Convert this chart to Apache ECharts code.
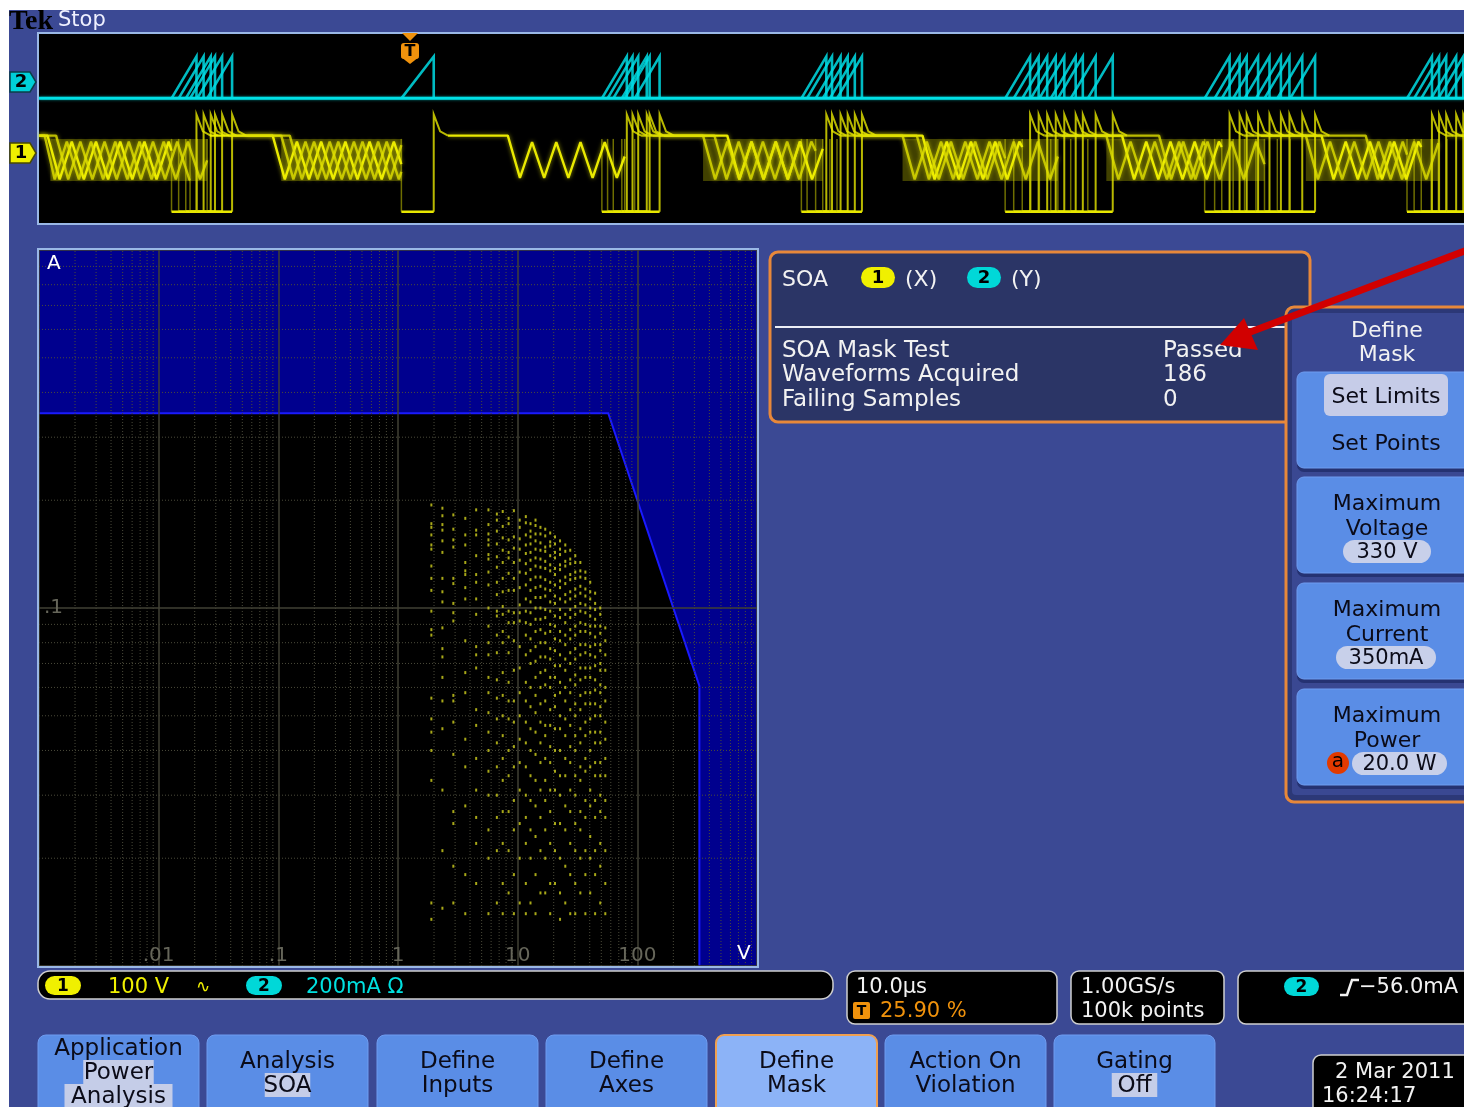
<!DOCTYPE html>
<html>
<head>
<meta charset="utf-8">
<script src="https://cdn.jsdelivr.net/npm/echarts@6/dist/echarts.min.js"></script>
<style>
html,body{margin:0;padding:0;background:#ffffff;}
#scope{width:1464px;height:1107px;}
</style>
</head>
<body>
<div id="scope"></div>
<script>
const FONT = '"DejaVu Sans", "Noto Sans", sans-serif';

// ---------- Acquisition window (time in µs, 10 µs/div, 10 div) ----------
const timeRange = [0, 100];

// Channel 1 (switch voltage, V) levels
const ch1Range = [-368, 621];
const ch1Levels = { flat: 89, spike: 200, settle: 112, low: -309, ringTop: 72, ringBottom: -148 };

// Channel 2 (switch current, mA) levels
const ch2Range = [-1484, 495];
const ch2Levels = { base: -179, peak: 260 };

// Switching events [turn-on, turn-off] in µs, collected over all acquisitions
const switchEvents = [
  [9.3, 11.05], [9.8, 11.55], [10.3, 12.05], [10.6, 12.35], [11.1, 12.85], [11.8, 13.55],
  [25.43, 27.7],
  [39.5, 41.25], [39.9, 41.65], [40.3, 42.05], [40.9, 42.65], [41.1, 42.85], [41.8, 43.55],
  [53.5, 55.25], [53.9, 55.65], [54.5, 56.25], [55.0, 56.75], [55.5, 57.25], [56.0, 57.75],
  [67.8, 69.55], [68.4, 70.15], [69.0, 70.75], [69.6, 71.35], [70.2, 71.95], [71.0, 72.75], [71.5, 73.25], [72.4, 74.15], [73.6, 75.35],
  [81.8, 83.55], [82.5, 84.25], [83.0, 84.75], [83.8, 85.55], [84.6, 86.35], [85.4, 87.15], [86.0, 87.75], [86.9, 88.65], [87.8, 89.55],
  [96.0, 97.75], [96.5, 98.25], [97.0, 98.75], [97.7, 99.45], [98.2, 99.95], [98.8, 100.55]
];

// Intervals where the persisted ringing overlaps (µs)
const ringBands = [[0.8, 11.8], [17.0, 25.43], [46.6, 55.0], [60.6, 71.5], [74.9, 86.0], [88.9, 98.2]];

// Off-state segments of three stored channel 1 traces: [t µs, V]
const ch1TraceA = [
  [[0, 89], [0.6, 89], [1.45, -140], [2.3, 58], [3.15, -140], [4.0, 58], [4.85, -140], [5.7, 58], [6.55, -140], [7.4, 58], [8.25, -140], [9.1, 58], [9.3, 10]],
  [[12.0, 89], [16.4, 89], [17.25, -140], [18.1, 58], [18.95, -140], [19.8, 58], [20.65, -140], [21.5, 58], [22.35, -140], [23.2, 58], [24.05, -140], [24.9, 58], [25.43, -60]],
  [[28.7, 89], [32.9, 89], [33.75, -132], [34.6, 55], [35.45, -132], [36.3, 55], [37.15, -132], [38.0, 55], [38.85, -132], [39.7, 55], [40.55, -132], [41.1, -20]],
  [[43.85, 89], [48.3, 89], [49.15, -140], [50.0, 58], [50.85, -140], [51.7, 58], [52.55, -140], [53.4, 58], [54.25, -140], [55.0, 20]],
  [[57.75, 89], [62.0, 89], [62.85, -140], [63.7, 58], [64.55, -140], [65.4, 58], [66.25, -140], [67.1, 58], [67.95, -140], [68.8, 58], [69.0, 30]],
  [[71.75, 89], [76.0, 89], [76.85, -140], [77.7, 58], [78.55, -140], [79.4, 58], [80.25, -140], [81.1, 58], [81.95, -140], [82.8, 58], [83.0, 30]],
  [[85.75, 89], [90.0, 89], [90.85, -140], [91.7, 58], [92.55, -140], [93.4, 58], [94.25, -140], [95.1, 58], [95.95, -140], [96.8, 58], [97.0, 30]],
  [[99.75, 89], [100, 89]]
];
const ch1TraceB = [
  [[0, 89], [1.2, 89], [2.05, -140], [2.9, 58], [3.75, -140], [4.6, 58], [5.45, -140], [6.3, 58], [7.15, -140], [8.0, 58], [8.85, -140], [9.7, 58], [10.55, -140], [10.6, -145]],
  [[13.35, 89], [17.6, 89], [18.45, -140], [19.3, 58], [20.15, -140], [21.0, 58], [21.85, -140], [22.7, 58], [23.55, -140], [24.4, 58], [25.25, -140], [25.43, -100]],
  [[42.25, 89], [46.6, 89], [47.45, -140], [48.3, 58], [49.15, -140], [50.0, 58], [50.85, -140], [51.7, 58], [52.55, -140], [53.4, 58], [53.5, 40]],
  [[56.25, 89], [60.6, 89], [61.45, -140], [62.3, 58], [63.15, -140], [64.0, 58], [64.85, -140], [65.7, 58], [66.55, -140], [67.4, 58], [67.8, -30]],
  [[70.55, 89], [74.9, 89], [75.75, -140], [76.6, 58], [77.45, -140], [78.3, 58], [79.15, -140], [80.0, 58], [80.85, -140], [81.7, 58], [81.8, 40]],
  [[84.55, 89], [88.9, 89], [89.75, -140], [90.6, 58], [91.45, -140], [92.3, 58], [93.15, -140], [94.0, 58], [94.85, -140], [95.7, 58], [96.0, -10]],
  [[98.75, 89], [100, 89]]
];
const ch1TraceC = [
  [[0, 89], [0.4, 89], [1.1, -140], [1.95, 58], [2.8, -140], [3.65, 58], [4.5, -140], [5.35, 58], [6.2, -140], [7.05, 58], [7.9, -140], [8.75, 58], [9.6, -140], [10.45, 58], [11.3, -140], [11.8, -40]],
  [[14.55, 89], [17.0, 89], [17.85, -140], [18.7, 58], [19.55, -140], [20.4, 58], [21.25, -140], [22.1, 58], [22.95, -140], [23.8, 58], [24.65, -140], [25.43, 40]],
  [[43.05, 89], [47.4, 89], [48.25, -140], [49.1, 58], [49.95, -140], [50.8, 58], [51.65, -140], [52.5, 58], [53.35, -140], [54.2, 58], [54.5, 10]],
  [[57.25, 89], [61.6, 89], [62.45, -140], [63.3, 58], [64.15, -140], [65.0, 58], [65.85, -140], [66.7, 58], [67.55, -140], [68.4, 58], [69.25, -140], [70.1, 58], [70.95, -140], [71.5, -20]],
  [[74.25, 89], [78.6, 89], [79.45, -140], [80.3, 58], [81.15, -140], [82.0, 58], [82.85, -140], [83.7, 58], [84.55, -140], [85.4, 58], [86.0, -60]],
  [[88.75, 89], [93.1, 89], [93.95, -140], [94.8, 58], [95.65, -140], [96.5, 58], [97.35, -140], [98.2, 50]]
];

// ---------- SOA plot ----------
const voltRange = [0.001, 1000];
const ampRange = [0.01, 1];
const voltDecadeLabels = { '-2': '.01', '-1': '.1', '0': '1', '1': '10', '2': '100' };
const ampDecadeLabels = { '-1': '.1' };
const minorVolts = [0.002, 0.003, 0.004, 0.005, 0.006, 0.007, 0.008, 0.009,
  0.02, 0.03, 0.04, 0.05, 0.06, 0.07, 0.08, 0.09,
  0.2, 0.3, 0.4, 0.5, 0.6, 0.7, 0.8, 0.9,
  2, 3, 4, 5, 6, 7, 8, 9,
  20, 30, 40, 50, 60, 70, 80, 90,
  200, 300, 400, 500, 600, 700, 800, 900];
const minorAmps = [0.02, 0.03, 0.04, 0.05, 0.06, 0.07, 0.08, 0.09, 0.2, 0.3, 0.4, 0.5, 0.6, 0.7, 0.8, 0.9];

// Mask limits
const maxVoltage = 330;   // V
const maxCurrent = 0.35;  // A
const maxPower = 20;      // W

// Acquired (V, I) samples: voltage columns and the currents (mA) seen in each
const soaVolts = [1.9, 2.35, 2.9, 3.65, 4.5, 5.7, 6.7, 7.5, 8.4, 9.3, 10.4, 11.7, 12.8, 14.1,
  15.5, 17.0, 18.7, 20.5, 22.6, 25.0, 27.5, 30.3, 33.4, 36.8, 40.4, 44.4, 49.0, 54.0];
const soaCurrentsMa = [
  [194, 172, 168, 160, 150, 146, 131, 121, 112, 98, 87, 84, 56, 49, 45, 40, 33, 15, 13.5],
  [190, 181, 171, 165, 154, 143, 121, 111, 104, 88, 77, 73, 64, 55, 46, 31, 21, 14.5],
  [182, 166, 155, 148, 121, 117, 103, 97, 92, 57, 55, 48, 39, 27, 25, 19, 15],
  [178, 160, 150, 134, 127, 124, 114, 106, 81, 66, 58, 43, 36, 28, 18, 14],
  [188, 165, 160, 140, 124, 118, 106, 96, 78, 74, 68, 52, 47, 38, 31, 26, 22, 17],
  [188, 171, 161, 155, 150, 141, 137, 126, 116, 100, 89, 80, 74, 64, 58, 51, 45, 40, 35, 30, 24, 20, 14],
  [183, 176, 164, 151, 139, 130, 118, 109, 98, 95, 84, 75, 63, 56, 49, 42, 36, 30, 26, 21, 15],
  [186, 169, 157, 145, 134, 121, 111, 101, 96, 86, 80, 66, 57, 50, 44, 38, 33, 27, 22, 17, 14],
  [178, 172, 155, 143, 138, 125, 112, 98, 91, 83, 75, 62, 55, 49, 40, 34, 27, 21, 16],
  [187, 158, 147, 134, 121, 112, 97, 91, 81, 67, 55, 48, 41, 36, 29, 24, 18, 14],
  [176, 168, 156, 146, 136, 126, 114, 102, 97, 92, 78, 68, 58, 50, 43, 37, 31, 25, 20, 15],
  [180, 173, 160, 150, 142, 133, 125, 116, 106, 98, 91, 84, 74, 62, 55, 48, 42, 36, 30, 26, 22, 17, 14],
  [172, 164, 158, 151, 143, 136, 128, 120, 112, 104, 97, 90, 82, 76, 70, 60, 53, 46, 40, 34, 29, 24, 20, 15],
  [176, 170, 161, 154, 146, 138, 131, 122, 114, 107, 100, 93, 86, 78, 71, 64, 57, 51, 45, 39, 33, 28, 23, 18, 14],
  [168, 161, 152, 145, 137, 130, 122, 115, 107, 100, 93, 87, 80, 73, 66, 60, 54, 48, 42, 37, 31, 26, 21, 16],
  [166, 159, 148, 144, 135, 129, 120, 113, 108, 99, 94, 85, 80, 73, 67, 61, 55, 47, 44, 38, 33, 29, 24, 20, 16],
  [162, 153, 149, 140, 132, 127, 118, 112, 104, 98, 90, 86, 77, 72, 64, 60, 52, 47, 41, 37, 31, 27, 22, 17, 14],
  [158, 151, 143, 138, 129, 124, 116, 108, 103, 95, 89, 82, 76, 69, 64, 57, 53, 46, 40, 35, 31, 25, 21, 17],
  [154, 146, 141, 132, 128, 119, 114, 106, 99, 94, 86, 81, 74, 69, 62, 58, 50, 46, 40, 34, 30, 25, 20, 16, 13.5],
  [150, 144, 135, 131, 122, 117, 109, 104, 96, 91, 84, 79, 72, 67, 60, 55, 49, 44, 38, 34, 28, 24, 19, 15],
  [145, 137, 133, 124, 120, 111, 106, 99, 94, 87, 82, 75, 70, 63, 58, 52, 47, 41, 37, 31, 27, 22, 18, 14],
  [140, 134, 126, 121, 113, 108, 101, 96, 89, 84, 77, 72, 65, 61, 54, 50, 44, 40, 34, 30, 25, 21, 17, 14],
  [134, 127, 122, 115, 110, 103, 98, 91, 86, 79, 74, 68, 63, 57, 52, 46, 42, 36, 33, 27, 24, 20, 16],
  [126, 121, 113, 108, 102, 97, 90, 86, 79, 75, 68, 64, 58, 54, 48, 44, 38, 35, 29, 26, 21, 18, 14],
  [118, 111, 106, 100, 95, 89, 85, 78, 74, 68, 64, 58, 54, 49, 45, 40, 36, 31, 28, 23, 20, 16],
  [110, 103, 99, 93, 89, 83, 79, 73, 69, 63, 59, 54, 50, 45, 42, 37, 34, 29, 26, 21, 18, 14],
  [100, 96, 89, 85, 79, 76, 70, 67, 61, 58, 53, 50, 45, 42, 37, 34, 30, 27, 22, 19, 15],
  [88, 81, 74, 67, 60, 55, 48, 43, 38, 34, 29, 26, 21, 17, 14]
];
const soaPoints = soaVolts.flatMap((v, i) => soaCurrentsMa[i].map(ma => [v, ma / 1000]));

// ---------- Screen furniture ----------
const SCREEN_BG = '#3b4994';
const BTN_BLUE = '#5a8de6';
const TEXT_DY = 2;
const G = [];
function rect(x, y, w, h, o = {}) {
  G.push({ type: 'rect', z: o.z ?? 1, silent: true,
    shape: { x, y, width: w, height: h, r: o.r || 0 },
    style: { fill: o.fill ?? 'none', stroke: o.stroke ?? null, lineWidth: o.lw ?? 1 } });
}
function txt(x, y, s, o = {}) {
  const align = o.align || 'left';
  G.push({ type: 'text', z: o.z ?? 30, x, y: y + TEXT_DY, silent: true,
    style: { text: s, fill: o.fill || '#f2f2f2',
      font: `${o.weight || 'normal'} ${o.size || 22}px ${o.family || FONT}`,
      align, verticalAlign: 'middle', textAlign: align, textVerticalAlign: 'middle' } });
}
function poly(points, o = {}) {
  G.push({ type: 'polygon', z: o.z ?? 20, silent: true, shape: { points },
    style: { fill: o.fill, stroke: o.stroke ?? null, lineWidth: o.lw ?? 1 } });
}
function pline(points, o = {}) {
  G.push({ type: 'polyline', z: o.z ?? 20, silent: true, shape: { points },
    style: { fill: null, stroke: o.stroke, lineWidth: o.lw ?? 1, lineCap: o.cap || 'butt' } });
}
function circ(cx, cy, r, o = {}) {
  G.push({ type: 'circle', z: o.z ?? 20, silent: true, shape: { cx, cy, r }, style: { fill: o.fill } });
}
function pill(x, y, w, h, fill, label, o = {}) {
  rect(x, y, w, h, { r: h / 2, fill, z: o.z ?? 20 });
  txt(x + w / 2, y + h / 2 - 1, label, { fill: o.color || '#000', size: o.size || 18, weight: o.weight || 'bold', align: 'center', z: (o.z ?? 20) + 1 });
}

// screen background and title
rect(9, 10, 1455, 1097, { fill: SCREEN_BG, z: 0 });
txt(9, 20, 'Tek', { fill: '#000', size: 28, weight: 'bold', family: '"Liberation Serif", serif', z: 5 });
txt(58, 19, 'Stop', { fill: '#eef0ff', size: 21, z: 5 });

// waveform panel
rect(38, 33, 1450, 191, { fill: '#000', stroke: '#9ab8e6', lw: 2, z: 1 });
poly([[10, 72], [30, 72], [36, 82], [30, 92], [10, 92]], { fill: '#00d0d8', stroke: '#0b3f48', lw: 1.5 });
txt(21, 80, '2', { fill: '#000', size: 18, weight: 'bold', align: 'center', z: 21 });
poly([[10, 143], [30, 143], [36, 153], [30, 163], [10, 163]], { fill: '#f0f000', stroke: '#4a4a00', lw: 1.5 });
txt(21, 151, '1', { fill: '#000', size: 18, weight: 'bold', align: 'center', z: 21 });
poly([[402, 33], [418, 33], [410, 41]], { fill: '#f0920c' });
rect(401, 43, 18, 16, { r: 3, fill: '#f0920c', z: 20 });
poly([[401, 57], [419, 57], [410, 64]], { fill: '#f0920c' });
txt(410, 50, 'T', { fill: '#000', size: 16, weight: 'bold', align: 'center', z: 22 });

// SOA plot frame
rect(38, 249, 720, 718, { fill: '#000', z: 1 });
rect(38, 249, 720, 718, { stroke: '#9ab8e6', lw: 2, z: 50 });
txt(47, 262, 'A', { fill: '#ffffff', size: 20, z: 51 });
txt(737, 952, 'V', { fill: '#ffffff', size: 20, z: 51 });

// results readout
rect(770, 252, 540, 170, { r: 8, fill: '#2b3566', stroke: '#e8883a', lw: 3, z: 1 });
pline([[775, 327], [1288, 327]], { stroke: '#eceef6', lw: 2, z: 2 });
txt(782, 278, 'SOA', { size: 22 });
pill(861, 267, 34, 21, '#f0f000', '1');
txt(905, 278, '(X)', { size: 22 });
pill(967, 267, 34, 21, '#00d8d8', '2');
txt(1011, 278, '(Y)', { size: 22 });
const readoutNames = ['SOA Mask Test', 'Waveforms Acquired', 'Failing Samples'];
const readoutValues = ['Passed', '186', '0'];
readoutNames.forEach((s, i) => {
  txt(782, 349 + i * 24.5, s, { size: 23 });
  txt(1163, 349 + i * 24.5, readoutValues[i], { size: 23 });
});

// side menu
rect(1286, 307, 200, 495, { r: 8, fill: '#2c3877', stroke: '#e8883a', lw: 3, z: 3 });
rect(1292, 313, 200, 482, { r: 4, fill: '#3a4892', z: 4 });
txt(1387, 329, 'Define', { size: 22, align: 'center' });
txt(1387, 353, 'Mask', { size: 22, align: 'center' });
[[372, 98], [477, 98], [583, 98], [689, 98]].forEach(([y, h]) => {
  rect(1297, y + 2, 190, h, { r: 7, fill: '#253272', z: 5 });
  rect(1297, y, 190, h - 2, { r: 7, fill: BTN_BLUE, stroke: '#6f9cf0', lw: 1, z: 6 });
});
const DARK = '#0b0b18';
rect(1324, 374, 124, 42, { r: 6, fill: '#c6cce8', z: 10 });
txt(1386, 395, 'Set Limits', { fill: DARK, size: 22, align: 'center' });
txt(1386, 442, 'Set Points', { fill: DARK, size: 22, align: 'center' });
txt(1387, 502, 'Maximum', { fill: DARK, size: 22, align: 'center' });
txt(1387, 527, 'Voltage', { fill: DARK, size: 22, align: 'center' });
pill(1343, 540, 88, 23, '#c8d0ea', '330 V', { color: DARK, size: 21, weight: 'normal' });
txt(1387, 608, 'Maximum', { fill: DARK, size: 22, align: 'center' });
txt(1387, 633, 'Current', { fill: DARK, size: 22, align: 'center' });
pill(1336, 646, 100, 23, '#c8d0ea', '350mA', { color: DARK, size: 21, weight: 'normal' });
txt(1387, 714, 'Maximum', { fill: DARK, size: 22, align: 'center' });
txt(1387, 739, 'Power', { fill: DARK, size: 22, align: 'center' });
circ(1338, 763, 11, { fill: '#e23a00', z: 20 });
txt(1338, 760, 'a', { fill: '#000', size: 20, align: 'center', z: 21 });
pill(1352, 752, 95, 23, '#c8d0ea', '20.0 W', { color: DARK, size: 21, weight: 'normal' });

// callout arrow
pline([[1470, 249], [1245, 334]], { stroke: '#d10000', lw: 7, z: 60 });
poly([[1220, 345], [1244, 318], [1258, 350]], { fill: '#d10000', z: 60 });

// status boxes
const BOX = { fill: '#000', stroke: '#cfcfcf', lw: 1.5, z: 2 };
rect(38, 971, 795, 28, { ...BOX, r: 12 });
pill(45, 976, 36, 19, '#f0f000', '1', { size: 17 });
txt(108, 986, '100 V', { fill: '#f0f000', size: 21 });
txt(196, 986, '∿', { fill: '#f0f000', size: 17 });
pill(246, 976, 36, 19, '#00d8d8', '2', { size: 17 });
txt(306, 986, '200mA Ω', { fill: '#00e0e0', size: 21 });

rect(847, 971, 210, 53, { ...BOX, r: 8 });
txt(856, 986, '10.0µs', { size: 21 });
rect(853, 1002, 17, 17, { r: 2, fill: '#f0920c', z: 20 });
txt(861.5, 1009, 'T', { fill: '#000', size: 14, weight: 'bold', align: 'center' });
txt(880, 1010, '25.90 %', { fill: '#f0920c', size: 21 });

rect(1071, 971, 153, 53, { ...BOX, r: 8 });
txt(1081, 986, '1.00GS/s', { size: 21 });
txt(1081, 1010, '100k points', { size: 21 });

rect(1238, 971, 260, 53, { ...BOX, r: 8 });
pill(1284, 977, 35, 19, '#00d8d8', '2', { size: 17 });
pline([[1340, 995], [1347, 995], [1352, 980], [1359, 980]], { stroke: '#f2f2f2', lw: 2.5, z: 21 });
txt(1359, 986, '−56.0mA', { size: 21 });

rect(1313, 1055, 180, 60, { ...BOX, r: 8 });
txt(1335, 1071, '2 Mar 2011', { size: 21 });
txt(1322, 1095, '16:24:17', { size: 21 });

// bottom menu
const bottomMenu = [
  { x: 38, lines: ['Application', 'Power', 'Analysis'], hl: [1, 2] },
  { x: 207, lines: ['Analysis', 'SOA'], hl: [1] },
  { x: 377, lines: ['Define', 'Inputs'], hl: [] },
  { x: 546, lines: ['Define', 'Axes'], hl: [] },
  { x: 716, lines: ['Define', 'Mask'], hl: [], active: true },
  { x: 885, lines: ['Action On', 'Violation'], hl: [] },
  { x: 1054, lines: ['Gating', 'Off'], hl: [1] }
];
bottomMenu.forEach(b => {
  rect(b.x, 1035, 161, 85, { r: 8, fill: b.active ? '#8cb3f7' : BTN_BLUE,
    stroke: b.active ? '#f0a050' : '#6f9cf0', lw: b.active ? 2 : 1, z: 3 });
  const cx = b.x + 80.5;
  const y0 = b.lines.length === 3 ? 1047 : 1060;
  b.lines.forEach((s, i) => {
    const y = y0 + i * 24;
    if (b.hl.includes(i)) {
      const w = s.length * 12.5 + 8;
      rect(cx - w / 2, y - 11, w, 24, { fill: '#c5cde8', z: 10 });
    }
    txt(cx, y, s, { fill: DARK, size: 23, align: 'center' });
  });
});

// ---------- chart ----------
const chart = echarts.init(document.getElementById('scope'), null, { renderer: 'canvas' });

const decadeFmt = map => v => {
  const e = Math.round(Math.log10(v));
  return map[String(e)] || '';
};

const series = [];

// persisted ringing bands (channel 1)
series.push({
  type: 'custom', xAxisIndex: 0, yAxisIndex: 0, z: 3, silent: true,
  data: ringBands,
  renderItem(params, api) {
    const a = api.coord([api.value(0), ch1Levels.ringTop]);
    const b = api.coord([api.value(1), ch1Levels.ringBottom]);
    return { type: 'rect', shape: { x: a[0], y: a[1], width: b[0] - a[0], height: b[1] - a[1] },
      style: { fill: 'rgba(190,190,0,0.34)' } };
  }
});

// stored channel 1 traces
[ch1TraceA, ch1TraceB, ch1TraceC].forEach((trace, k) => {
  trace.forEach(seg => series.push({
    type: 'line', xAxisIndex: 0, yAxisIndex: 0, z: 5, silent: true,
    data: seg, showSymbol: false, symbol: 'none',
    lineStyle: { color: k === 0 ? '#f2f200' : '#dede00', width: 2.4, opacity: k === 0 ? 0.95 : 0.8,
      shadowBlur: 4, shadowColor: 'rgba(255,255,0,0.6)' }
  }));
});

// channel 1 switching transitions
series.push({
  type: 'custom', xAxisIndex: 0, yAxisIndex: 0, z: 5, silent: true,
  data: switchEvents,
  renderItem(params, api) {
    const on = api.value(0), off = api.value(1);
    const top = api.coord([on, ch1Levels.ringTop]);
    const lowOn = api.coord([on, ch1Levels.low]);
    const lowOff = api.coord([off, ch1Levels.low]);
    const spike = api.coord([off, ch1Levels.spike]);
    const settle = api.coord([off + 0.45, ch1Levels.settle]);
    const flat = api.coord([off + 1.0, ch1Levels.flat]);
    return { type: 'group', children: [
      { type: 'polyline', shape: { points: [top, lowOn] }, style: { stroke: 'rgba(200,200,0,0.55)', lineWidth: 1.5, fill: null } },
      { type: 'polyline', shape: { points: [lowOn, lowOff] }, style: { stroke: '#e8e800', lineWidth: 2.5, fill: null } },
      { type: 'polyline', shape: { points: [lowOff, spike, settle, flat] }, style: { stroke: 'rgba(230,230,0,0.8)', lineWidth: 2, fill: null } }
    ] };
  }
});

// channel 2 baseline and current ramps
series.push({
  type: 'line', xAxisIndex: 0, yAxisIndex: 1, z: 6, silent: true, symbol: 'none',
  data: [[timeRange[0], ch2Levels.base], [timeRange[1], ch2Levels.base]],
  lineStyle: { color: '#00e0e6', width: 3, shadowBlur: 3, shadowColor: 'rgba(0,230,230,0.6)' }
});
series.push({
  type: 'custom', xAxisIndex: 0, yAxisIndex: 1, z: 6, silent: true,
  data: switchEvents,
  renderItem(params, api) {
    const on = api.value(0), off = api.value(1);
    const p0 = api.coord([on, ch2Levels.base]);
    const p1 = api.coord([off, ch2Levels.peak]);
    const p2 = api.coord([off, ch2Levels.base]);
    return { type: 'polyline', shape: { points: [p0, p1, p2] },
      style: { stroke: 'rgba(0,220,228,0.85)', lineWidth: 2.6, fill: null } };
  }
});

// SOA mask: limit region outside of the safe operating area
series.push({
  type: 'custom', xAxisIndex: 1, yAxisIndex: 2, z: 2, silent: true,
  data: [[1, 0.1]],
  renderItem(params, api) {
    const c = p => api.coord(p);
    const knee = [maxPower / maxCurrent, maxCurrent];
    const corner = [maxVoltage, maxPower / maxVoltage];
    const outer = [[voltRange[0], ampRange[0]], [voltRange[1], ampRange[0]], [voltRange[1], ampRange[1]], [voltRange[0], ampRange[1]]].map(c);
    const safe = [[voltRange[0], ampRange[0]], [maxVoltage, ampRange[0]], corner, knee, [voltRange[0], maxCurrent]].map(c);
    const edge = [[voltRange[0], maxCurrent], knee, corner, [maxVoltage, ampRange[0]]].map(c);
    return { type: 'group', children: [
      { type: 'polygon', shape: { points: outer }, style: { fill: '#00008e' } },
      { type: 'polygon', shape: { points: safe }, style: { fill: '#000000' } },
      { type: 'polyline', shape: { points: edge }, style: { stroke: '#1a1aff', lineWidth: 2, fill: null } }
    ] };
  }
});

// minor graticule
series.push({
  type: 'custom', xAxisIndex: 1, yAxisIndex: 2, z: 3, silent: true,
  data: minorVolts.map(v => [v, 0.1]),
  renderItem(params, api) {
    const a = api.coord([api.value(0), ampRange[0]]);
    const b = api.coord([api.value(0), ampRange[1]]);
    return { type: 'line', shape: { x1: a[0], y1: a[1], x2: b[0], y2: b[1] },
      style: { stroke: '#4a4a3a', lineWidth: 1, lineDash: [1, 2] } };
  }
});
series.push({
  type: 'custom', xAxisIndex: 1, yAxisIndex: 2, z: 3, silent: true,
  data: minorAmps.map(a => [1, a]),
  renderItem(params, api) {
    const a = api.coord([voltRange[0], api.value(1)]);
    const b = api.coord([voltRange[1], api.value(1)]);
    return { type: 'line', shape: { x1: a[0], y1: a[1], x2: b[0], y2: b[1] },
      style: { stroke: '#4a4a3a', lineWidth: 1, lineDash: [1, 2] } };
  }
});

// acquired samples
series.push({
  type: 'scatter', xAxisIndex: 1, yAxisIndex: 2, z: 6, silent: true,
  data: soaPoints, symbol: 'rect', symbolSize: [2, 3],
  itemStyle: { color: '#d2d21e', opacity: 0.8 }
});

chart.setOption({
  animation: false,
  backgroundColor: '#ffffff',
  graphic: { elements: G },
  grid: [
    { left: 39, top: 34, width: 1441, height: 189, show: false },
    { left: 39, top: 250, width: 718, height: 716, show: false }
  ],
  xAxis: [
    { type: 'value', gridIndex: 0, min: timeRange[0], max: timeRange[1], show: false },
    { type: 'log', gridIndex: 1, logBase: 10, min: voltRange[0], max: voltRange[1], z: 4,
      axisLine: { show: false }, axisTick: { show: false },
      splitLine: { show: true, lineStyle: { color: '#414135', width: 1.5 } },
      axisLabel: { inside: true, margin: 0, color: '#66665a', fontSize: 20, fontFamily: FONT,
        formatter: decadeFmt(voltDecadeLabels) } }
  ],
  yAxis: [
    { type: 'value', gridIndex: 0, min: ch1Range[0], max: ch1Range[1], show: false },
    { type: 'value', gridIndex: 0, min: ch2Range[0], max: ch2Range[1], show: false },
    { type: 'log', gridIndex: 1, logBase: 10, min: ampRange[0], max: ampRange[1], z: 4,
      axisLine: { show: false }, axisTick: { show: false },
      splitLine: { show: true, lineStyle: { color: '#414135', width: 1.5 } },
      axisLabel: { inside: true, margin: 5, color: '#66665a', fontSize: 20, fontFamily: FONT,
        formatter: decadeFmt(ampDecadeLabels) } }
  ],
  series
});
</script>
</body>
</html>
